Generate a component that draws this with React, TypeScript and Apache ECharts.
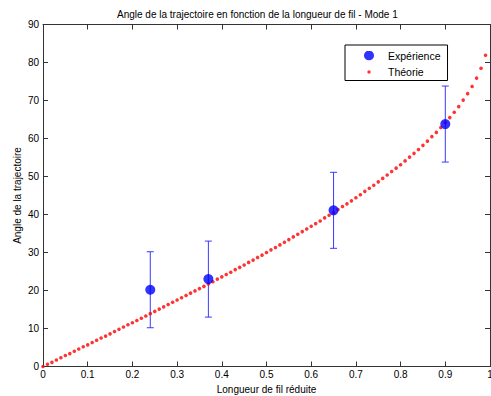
import React, { useEffect, useRef } from "react";
import * as echarts from "echarts";

const titleText = "Angle de la trajectoire en fonction de la longueur de fil - Mode 1";
const xAxisName = "Longueur de fil réduite";
const yAxisName = "Angle de la trajectoire";

const expX = [0.24, 0.37, 0.65, 0.9];
const expY = [20.2, 23.0, 41.1, 63.8];
const expErr = [10, 10, 10, 10];

const theoryX = [
  0.0, 0.01, 0.02, 0.03, 0.04, 0.05, 0.06, 0.07, 0.08, 0.09,
  0.1, 0.11, 0.12, 0.13, 0.14, 0.15, 0.16, 0.17, 0.18, 0.19,
  0.2, 0.21, 0.22, 0.23, 0.24, 0.25, 0.26, 0.27, 0.28, 0.29,
  0.3, 0.31, 0.32, 0.33, 0.34, 0.35, 0.36, 0.37, 0.38, 0.39,
  0.4, 0.41, 0.42, 0.43, 0.44, 0.45, 0.46, 0.47, 0.48, 0.49,
  0.5, 0.51, 0.52, 0.53, 0.54, 0.55, 0.56, 0.57, 0.58, 0.59,
  0.6, 0.61, 0.62, 0.63, 0.64, 0.65, 0.66, 0.67, 0.68, 0.69,
  0.7, 0.71, 0.72, 0.73, 0.74, 0.75, 0.76, 0.77, 0.78, 0.79,
  0.8, 0.81, 0.82, 0.83, 0.84, 0.85, 0.86, 0.87, 0.88, 0.89,
  0.9, 0.91, 0.92, 0.93, 0.94, 0.95, 0.96, 0.97, 0.98, 0.99,
];
const theoryY = [
  0.0, 0.6, 1.1, 1.7, 2.3, 2.9, 3.4, 4.0, 4.6, 5.2,
  5.7, 6.3, 6.9, 7.5, 8.0, 8.6, 9.2, 9.8, 10.4, 11.0,
  11.5, 12.1, 12.7, 13.3, 13.9, 14.5, 15.1, 15.7, 16.3, 16.9,
  17.5, 18.1, 18.7, 19.3, 19.9, 20.5, 21.1, 21.7, 22.3, 23.0,
  23.6, 24.2, 24.8, 25.5, 26.1, 26.7, 27.4, 28.0, 28.7, 29.3,
  30.0, 30.7, 31.3, 32.0, 32.7, 33.4, 34.1, 34.8, 35.5, 36.2,
  36.9, 37.6, 38.3, 39.1, 39.8, 40.5, 41.3, 42.1, 42.8, 43.6,
  44.4, 45.2, 46.1, 46.9, 47.7, 48.6, 49.5, 50.4, 51.3, 52.2,
  53.1, 54.1, 55.1, 56.1, 57.1, 58.2, 59.3, 60.5, 61.6, 62.9,
  64.2, 65.5, 66.9, 68.4, 70.1, 71.8, 73.7, 75.9, 78.5, 81.9,
];

const FONT = "'Liberation Sans', Arial, Helvetica, sans-serif";

function svgIcon(r: number, color: string) {
  const svg = `<svg xmlns="http://www.w3.org/2000/svg" width="28" height="10" viewBox="0 0 28 10"><circle cx="14" cy="5" r="${r}" fill="${color}"/></svg>`;
  return "image://data:image/svg+xml;charset=utf-8," + encodeURIComponent(svg);
}

export default function App() {
  const ref = useRef<HTMLDivElement>(null);
  useEffect(() => {
    if (!ref.current) return;
    const chart = echarts.init(ref.current, undefined, { renderer: "svg" });
    const axisColor = "#333";
    const theoryData = theoryX.map((x, i) => [x, theoryY[i]]);
    const expData = expX.map((x, i) => [x, expY[i]]);
    const errData = expX.map((x, i) => [x, expY[i] - expErr[i], expY[i] + expErr[i]]);
    const baseX = {
      type: "value" as const,
      min: 0,
      max: 1,
      interval: 0.1,
      splitLine: { show: false },
      axisLine: { show: true, onZero: false, lineStyle: { color: axisColor, width: 1 } },
      axisTick: { show: true, inside: true, length: 5, lineStyle: { color: axisColor } },
    };
    const baseY = {
      type: "value" as const,
      min: 0,
      max: 90,
      interval: 10,
      splitLine: { show: false },
      axisLine: { show: true, onZero: false, lineStyle: { color: axisColor, width: 1 } },
      axisTick: { show: true, inside: true, length: 5, lineStyle: { color: axisColor } },
    };
    chart.setOption({
      animation: false,
      backgroundColor: "#ffffff",
      textStyle: { fontFamily: FONT },
      title: {
        text: titleText,
        left: 117,
        top: 9,
        padding: 0,
        textStyle: { fontSize: 10, fontWeight: "normal", color: "#000", fontFamily: FONT },
      },
      grid: {
        left: 43,
        right: 1,
        top: 24.5,
        bottom: 29.5,
        containLabel: false,
        outerBoundsMode: "none",
      },
      legend: {
        orient: "vertical",
        left: 345,
        top: 45,
        padding: [5, 7, 3, 10],
        itemGap: 5.5,
        itemWidth: 28,
        itemHeight: 10,
        borderColor: "#000",
        borderWidth: 1,
        backgroundColor: "#fff",
        textStyle: { fontSize: 10.5, lineHeight: 10, color: "#000", fontFamily: FONT },
        data: [
          { name: "Expérience", icon: svgIcon(5, "#0000ff") },
          { name: "Théorie", icon: svgIcon(1.7, "#ff0000") },
        ],
      },
      xAxis: [
        {
          ...baseX,
          position: "bottom",
          name: xAxisName,
          nameLocation: "middle",
          nameGap: 17,
          nameTextStyle: { fontSize: 10, color: "#000", fontFamily: FONT },
          axisLabel: { show: true, margin: 3, fontSize: 10, color: "#000", fontFamily: FONT },
        },
        { ...baseX, position: "top", axisLabel: { show: false } },
      ],
      yAxis: [
        {
          ...baseY,
          position: "left",
          name: yAxisName,
          nameLocation: "middle",
          nameGap: 20.5,
          nameMoveOverlap: false,
          nameTextStyle: { fontSize: 10, color: "#000", fontFamily: FONT },
          axisLabel: { show: true, margin: 4, fontSize: 10, color: "#000", fontFamily: FONT },
        },
        { ...baseY, position: "right", axisLabel: { show: false } },
      ],
      series: [
        {
          name: "Théorie",
          type: "scatter",
          xAxisIndex: 0,
          yAxisIndex: 0,
          symbol: "circle",
          symbolSize: 3.6,
          itemStyle: { color: "#ff0000" },
          data: theoryData,
          z: 3,
        },
        {
          name: "errbars",
          type: "custom",
          xAxisIndex: 0,
          yAxisIndex: 0,
          data: errData,
          z: 2,
          renderItem: (params: any, api: any) => {
            const x = api.value(0);
            const lo = api.coord([x, api.value(1)]);
            const hi = api.coord([x, api.value(2)]);
            const cap = 3.5;
            const style = { stroke: "#3a3aff", lineWidth: 1 };
            return {
              type: "group",
              children: [
                { type: "line", shape: { x1: lo[0], y1: lo[1], x2: hi[0], y2: hi[1] }, style },
                { type: "line", shape: { x1: lo[0] - cap, y1: lo[1], x2: lo[0] + cap, y2: lo[1] }, style },
                { type: "line", shape: { x1: hi[0] - cap, y1: hi[1], x2: hi[0] + cap, y2: hi[1] }, style },
              ],
            };
          },
        },
        {
          name: "Expérience",
          type: "scatter",
          xAxisIndex: 0,
          yAxisIndex: 0,
          symbol: "circle",
          symbolSize: 10,
          itemStyle: { color: "#0000ff" },
          data: expData,
          z: 4,
        },
      ],
    });
    return () => chart.dispose();
  }, []);
  return (
    <div
      ref={ref}
      style={{ position: "fixed", left: 0, top: 0, width: 491, height: 396 }}
    />
  );
}
